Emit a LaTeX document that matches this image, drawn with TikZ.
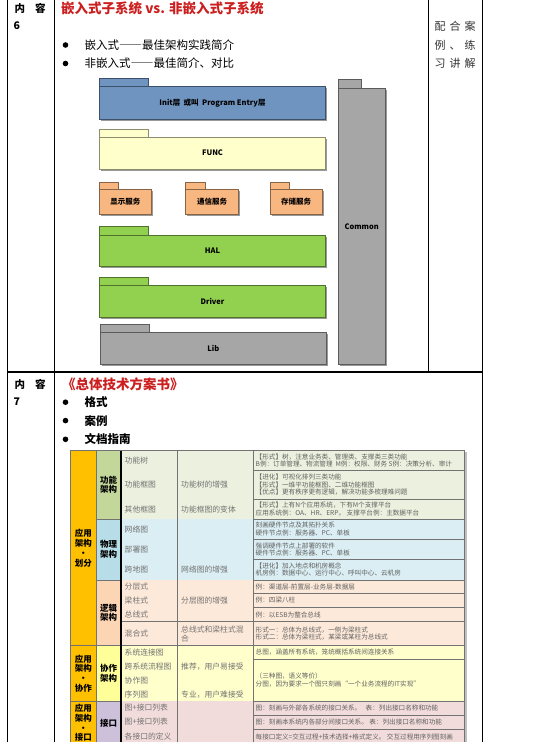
\documentclass[tikz,border=0pt]{standalone}
\usepackage{fontspec}
\setmainfont{Noto Sans CJK SC}

% Colores
\definecolor{rojotit}{HTML}{CC1F1F}
\definecolor{azulcapa}{HTML}{7094C0}
\definecolor{amarcapa}{HTML}{FFFFCC}
\definecolor{narcapa}{HTML}{F8B680}
\definecolor{verdecapa}{HTML}{92D050}
\definecolor{griscapa}{HTML}{A6A6A6}
\definecolor{naranja}{HTML}{FFC000}
\definecolor{verdesub}{HTML}{C4D79B}
\definecolor{verdefila}{HTML}{EBF1DE}
\definecolor{azulsub}{HTML}{B7DEE8}
\definecolor{azulfila}{HTML}{DAEEF3}
\definecolor{melonsub}{HTML}{FCD5B4}
\definecolor{melonfila}{HTML}{FDE9D9}
\definecolor{amarsub}{HTML}{FFFF99}
\definecolor{amarfila}{HTML}{FFFFCC}
\definecolor{lilasub}{HTML}{CCC0DA}
\definecolor{rosafila}{HTML}{F2DCDB}

% Rayas de ancho completo
\newcommand{\rayas}{{\addfontfeatures{RawFeature=+fwid}——}}

% Capa con pestaña: nombre, color, x1, x2, x pestaña, y pestaña, y cuerpo, y2, texto
\newcommand{\capa}[9]{%
  \fill[black!40] (#3+1.5,#7+1.5) rectangle (#4+1.5,#8+1.5);
  \filldraw[fill=#2, draw=#2!55!black, line width=0.5pt] (#3,#6) rectangle (#5,#7);
  \filldraw[fill=#2, draw=#2!55!black, line width=0.5pt] (#3,#7) rectangle (#4,#8);
  \node[caja] (#1) at ({(#3+#4)/2},{(#7+#8)/2}) {#9};
}

\begin{document}
\begin{tikzpicture}[x=1pt, y=-1pt,
  marco/.style={line width=1.2pt, draw=black},
  rejilla/.style={line width=0.7pt, draw=black!55},
  caja/.style={inner sep=0pt, font=\bfseries\fontsize{7.5}{8.5}\selectfont},
  cabecera/.style={anchor=west, inner sep=0pt, font=\bfseries\fontsize{10.5}{12}\selectfont},
  titulo/.style={anchor=west, inner sep=0pt, text=rojotit, font=\bfseries\fontsize{13.5}{15}\selectfont},
  punto/.style={anchor=west, inner sep=0pt, font=\fontsize{11.5}{13}\selectfont},
  vineta/.style={circle, fill, inner sep=0pt, minimum size=5.6pt},
  celda/.style={anchor=west, inner sep=0pt, align=left, text=black!55, font=\fontsize{7.8}{9}\selectfont},
  desc/.style={anchor=west, inner sep=0pt, align=left, text=black!62, font=\fontsize{6.6}{7.5}\selectfont},
  cat/.style={inner sep=0pt, align=center, font=\bfseries\fontsize{8.5}{9.7}\selectfont},
]
  % Fondo y tamaño
  \fill[white] (0,0) rectangle (543,742);
  \useasboundingbox (0,0) rectangle (543,742);

  % Marco de la página
  \draw[marco] (7.5,0) -- (7.5,742);
  \draw[marco] (54.5,0) -- (54.5,742);
  \draw[marco] (428.5,0) -- (428.5,372);
  \draw[marco] (482.5,0) -- (482.5,742);
  \draw[marco] (7.5,372) -- (482.5,372);

  % Contenido 6
  \node[cabecera] (cont6) at (14.5,8.5) {内\hspace{10pt}容};
  \node[cabecera] (num6) at (13.5,26) {6};
  \node[titulo] (tit6) at (61,8.5) {嵌入式子系统 vs. 非嵌入式子系统};
  \node[vineta] (b61) at (65.5,45) {};
  \node[vineta] (b62) at (65.5,63.5) {};
  \node[punto] (p61) at (84.5,45) {嵌入式\rayas 最佳架构实践简介};
  \node[punto] (p62) at (84.5,63.5) {非嵌入式\rayas 最佳简介、对比};
  \node[punto, font=\fontsize{11}{13}\selectfont, text=black!80] (r1) at (434.5,26) {配\hspace{4pt}合\hspace{4pt}案};
  \node[punto, font=\fontsize{11}{13}\selectfont, text=black!80] (r2) at (434.5,45) {例\hspace{4pt}、\hspace{4pt}练};
  \node[punto, font=\fontsize{11}{13}\selectfont, text=black!80] (r3) at (434.5,63.5) {习\hspace{4pt}讲\hspace{4pt}解};

  % Capas del sistema
  \capa{init}{azulcapa}{99.3}{325.7}{148.7}{78.3}{86.7}{119}{Init层\ \ 或叫\ \ Program Entry层}
  \capa{func}{amarcapa}{99.3}{325.7}{148.7}{129.3}{137.3}{169}{FUNC}
  \capa{disp}{narcapa}{99.3}{151.3}{118.7}{182.7}{189}{214.3}{显示服务}
  \capa{comu}{narcapa}{185.7}{238.7}{205.3}{182.7}{189}{214.3}{通信服务}
  \capa{alma}{narcapa}{270.3}{322}{289.7}{182.7}{189}{214.3}{存储服务}
  \capa{hal}{verdecapa}{99.3}{325.7}{148.7}{226.7}{235}{266.7}{HAL}
  \capa{driver}{verdecapa}{99.3}{325.7}{148.7}{277.3}{285.3}{317.3}{Driver}
  \capa{lib}{griscapa}{100}{326.7}{149.7}{324}{332.3}{364.3}{Lib}
  \capa{common}{griscapa}{338.3}{385}{361.7}{79.3}{88.3}{364.7}{Common}

  % Contenido 7
  \node[cabecera] (cont7) at (14.5,384.5) {内\hspace{10pt}容};
  \node[cabecera] (num7) at (13.5,402) {7};
  \node[titulo] (tit7) at (62,384) {《总体技术方案书》};
  \node[vineta] (b71) at (65.5,402.2) {};
  \node[vineta] (b72) at (65.5,420.6) {};
  \node[vineta] (b73) at (65.5,439.3) {};
  \node[punto, font=\bfseries\fontsize{11.5}{13}\selectfont] (p71) at (84.5,402.2) {格式};
  \node[punto, font=\bfseries\fontsize{11.5}{13}\selectfont] (p72) at (84.5,420.6) {案例};
  \node[punto, font=\bfseries\fontsize{11.5}{13}\selectfont] (p73) at (84.5,439.3) {文档指南};

  % Tabla: filas
  \foreach \ya/\yb/\col/\elem/\nota [count=\i] in {
    450.7/470/verdefila/功能树/{},
    470/499.3/verdefila/功能框图/功能树的增强,
    499.3/519/verdefila/其他框图/功能框图的变体,
    519/539.3/azulfila/网络图/{},
    539.3/559.3/azulfila/部署图/{},
    559.3/580/azulfila/跨地图/网络图的增强,
    580/593.3/melonfila/分层式/{},
    593.3/607.3/melonfila/梁柱式/分层图的增强,
    607.3/621.7/melonfila/总线式/{},
    621.7/645.7/melonfila/混合式/{总线式和梁柱式混\\合},
    645.7/659.3/amarfila/系统连接图/{},
    659.3/673.3/amarfila/跨系统流程图/推荐，用户易接受,
    673.3/687.3/amarfila/协作图/{},
    687.3/701/amarfila/序列图/专业，用户难接受,
    701/715/rosafila/图+接口列表/{},
    715/729/rosafila/图+接口列表/{},
    729/745/rosafila/各接口的定义/{}%
  }{
    \fill[\col] (121,\ya) rectangle (464,\yb);
    \draw[rejilla] (121,\yb) -- (253.3,\yb);
    \node[celda] (elem\i) at (124.5,{(\ya+\yb)/2}) {\elem};
    \node[celda] (nota\i) at (181,{(\ya+\yb)/2}) {\nota};
  }

  % Tabla: descripciones
  \foreach \ya/\yb/\txt [count=\j] in {
    450.7/470/{【形式】树，注意业务类、管理类、支撑类三类功能\\B例：订单管理、物流管理\ \ M例：权限、财务\ S例：决策分析、审计},
    470/499.3/{【进化】可视化排列三类功能\\【形式】一维平功能框图、二维功能框图\\【优点】更有秩序更有逻辑，解决功能多梳理难问题},
    499.3/519/{【形式】上有N个应用系统，下有M个支撑平台\\应用系统例：OA、HR、ERP。\ 支撑平台例：主数据平台},
    519/539.3/{刻画硬件节点及其拓扑关系\\硬件节点例：服务器、PC、单板},
    539.3/559.3/{强调硬件节点上部署的软件\\硬件节点例：服务器、PC、单板},
    559.3/580/{【进化】加入地点和机房概念\\机房例：数据中心、运行中心、呼叫中心、云机房},
    580/593.3/{例：渠道层-前置层-业务层-数据层},
    593.3/607.3/{例：四梁八柱},
    607.3/621.7/{例：以ESB为整合总线},
    621.7/645.7/{形式一：总体为总线式，一侧为梁柱式\\形式二：总体为梁柱式，某梁或某柱为总线式},
    645.7/659.3/{总图，涵盖所有系统，笼统概括系统间连接关系},
    659.3/701/{（三种图，语义等价）\\分图，因为要求一个图只刻画“一个业务流程的IT实现”},
    701/715/{图：刻画与外部各系统的接口关系。\ \ \ 表：列出接口名称和功能},
    715/729/{图：刻画本系统内各部分间接口关系。\ 表：列出接口名称和功能},
    729/745/{每接口定义=交互过程+技术选择+格式定义。\ 交互过程用序列图刻画}%
  }{
    \draw[rejilla] (253.3,\yb) -- (464,\yb);
    \node[desc] (desc\j) at (255.5,{(\ya+\yb)/2}) {\txt};
  }

  % Tabla: subcategorías
  \foreach \ya/\yb/\col/\txt [count=\k] in {
    450.7/519/verdesub/{功能\\架构},
    519/580/azulsub/{物理\\架构},
    580/645.7/melonsub/{逻辑\\架构},
    645.7/701/amarsub/{协作\\架构},
    701/745/lilasub/{接口}%
  }{
    \filldraw[rejilla, fill=\col] (96,\ya) rectangle (121,\yb);
    \node[cat] (sub\k) at (108.5,{(\ya+\yb)/2}) {\txt};
  }

  % Tabla: categorías
  \foreach \ya/\yb/\txt [count=\k] in {
    450.7/645.7/{应用\\架构\\·\\划分},
    645.7/701/{应用\\架构\\·\\协作},
    701/745/{应用\\架构\\·\\接口}%
  }{
    \filldraw[rejilla, fill=naranja] (70.7,\ya) rectangle (96,\yb);
    \node[cat] (cat\k) at (83.3,{(\ya+\yb)/2}) {\txt};
  }

  % Tabla: líneas verticales y borde
  \draw[rejilla] (177.3,450.7) -- (177.3,745);
  \draw[rejilla] (253.3,450.7) -- (253.3,745);
  \draw[line width=1.6pt] (121,450.7) -- (121,745);
  \draw[rejilla] (70.7,450.7) rectangle (464,745);
  \fill[black!25] (464.6,452) rectangle (466.6,745);
\end{tikzpicture}
\end{document}
